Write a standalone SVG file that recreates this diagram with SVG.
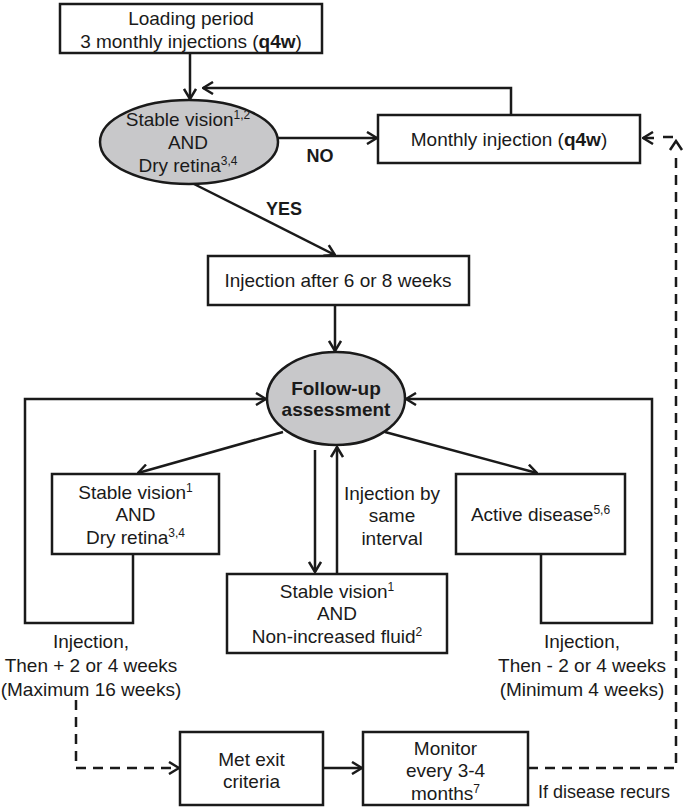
<svg xmlns="http://www.w3.org/2000/svg" width="685" height="807" viewBox="0 0 685 807">
<defs>
<style>
text{font-family:"Liberation Sans",Arial,sans-serif;font-size:19px;fill:#1a1a1a;text-anchor:middle}
.b{font-weight:bold}
.sup{font-size:12px}
.box{fill:#fff;stroke:#1a1a1a;stroke-width:2.5}
.ell{fill:#c8c8ca;stroke:#1a1a1a;stroke-width:2.5}
.ln{fill:none;stroke:#1a1a1a;stroke-width:2.5}
.dash{fill:none;stroke:#1a1a1a;stroke-width:2.5;stroke-dasharray:10 7}
</style>
<marker id="arr" viewBox="0 0 12 14" refX="11" refY="7" markerWidth="12" markerHeight="14" markerUnits="userSpaceOnUse" orient="auto">
<path d="M1,1 L11,7 L1,13" fill="none" stroke="#1a1a1a" stroke-width="2.5"/>
</marker>
</defs>
<rect width="685" height="807" fill="#fff"/>
<g id="connectors">
<path class="ln" d="M190,53 V99" marker-end="url(#arr)"/>
<path class="ln" d="M511,115 V88 H203" marker-end="url(#arr)"/>
<path class="ln" d="M277,138 H377" marker-end="url(#arr)"/>
<path class="ln" d="M192,183 L335,255" marker-end="url(#arr)"/>
<path class="ln" d="M335,305 V351" marker-end="url(#arr)"/>
<path class="ln" d="M283,432 L138,473" marker-end="url(#arr)"/>
<path class="ln" d="M385,432 L537,473" marker-end="url(#arr)"/>
<path class="ln" d="M315,450 V572" marker-end="url(#arr)"/>
<path class="ln" d="M337,573 V447" marker-end="url(#arr)"/>
<path class="ln" d="M133,554 V623 H25 V399 H266" marker-end="url(#arr)"/>
<path class="ln" d="M541,554 V623 H652 V399 H406" marker-end="url(#arr)"/>
<path class="ln" d="M323,768 H362" marker-end="url(#arr)"/>
<path class="dash" d="M76,700 V768 H179" marker-end="url(#arr)"/>
<path class="dash" d="M528,768 H676 V152"/>
<path class="ln" d="M670,150 L676,141 L682,150"/>
<path class="ln" d="M663,137 H673"/>
<path class="ln" d="M654,138 H643" marker-end="url(#arr)"/>
<text class="b" x="320" y="162" style="font-size:18px">NO</text>
<text class="b" x="284" y="215" style="font-size:18px">YES</text>
<text x="392" y="500">Injection by</text>
<text x="392" y="522">same</text>
<text x="392" y="545">interval</text>
<text x="91" y="648">Injection,</text>
<text x="91" y="672">Then + 2 or 4 weeks</text>
<text x="91" y="696">(Maximum 16 weeks)</text>
<text x="582" y="648">Injection,</text>
<text x="582" y="672">Then - 2 or 4 weeks</text>
<text x="582" y="696">(Minimum 4 weeks)</text>
<text x="604" y="798" style="font-size:18px">If disease recurs</text>
</g>
<g id="loading">
<rect class="box" x="60" y="4" width="262" height="49"/>
<text x="191" y="25">Loading period</text>
<text x="191" y="48">3 monthly injections (<tspan class="b">q4w</tspan>)</text>
</g>
<g id="decision">
<ellipse class="ell" cx="189" cy="142" rx="89" ry="42"/>
<text x="188" y="126">Stable vision<tspan class="sup" dy="-7">1,2</tspan></text>
<text x="188" y="149">AND</text>
<text x="188" y="172">Dry retina<tspan class="sup" dy="-7">3,4</tspan></text>
</g>
<g id="monthly">
<rect class="box" x="378" y="115" width="262" height="48"/>
<text x="509" y="146">Monthly injection (<tspan class="b">q4w</tspan>)</text>
</g>
<g id="injection68">
<rect class="box" x="208" y="256" width="261" height="49"/>
<text x="338" y="287">Injection after 6 or 8 weeks</text>
</g>
<g id="followup">
<ellipse class="ell" cx="336" cy="398.5" rx="69" ry="46.5"/>
<text class="b" x="336" y="395">Follow-up</text>
<text class="b" x="336" y="416">assessment</text>
</g>
<g id="stable-dry">
<rect class="box" x="52" y="474" width="167" height="80"/>
<text x="135.5" y="499">Stable vision<tspan class="sup" dy="-7">1</tspan></text>
<text x="135.5" y="521">AND</text>
<text x="135.5" y="544">Dry retina<tspan class="sup" dy="-7">3,4</tspan></text>
</g>
<g id="stable-fluid">
<rect class="box" x="227" y="574" width="220" height="79"/>
<text x="337" y="598">Stable vision<tspan class="sup" dy="-7">1</tspan></text>
<text x="337" y="620">AND</text>
<text x="337" y="643">Non-increased fluid<tspan class="sup" dy="-7">2</tspan></text>
</g>
<g id="active">
<rect class="box" x="456" y="474" width="169" height="80"/>
<text x="540.5" y="521">Active disease<tspan class="sup" dy="-7">5,6</tspan></text>
</g>
<g id="exit">
<rect class="box" x="180" y="732" width="143" height="73"/>
<text x="251.5" y="766">Met exit</text>
<text x="251.5" y="788">criteria</text>
</g>
<g id="monitor">
<rect class="box" x="363" y="732" width="165" height="73"/>
<text x="445.5" y="755">Monitor</text>
<text x="445.5" y="777">every 3-4</text>
<text x="445.5" y="800">months<tspan class="sup" dy="-7">7</tspan></text>
</g>
</svg>
